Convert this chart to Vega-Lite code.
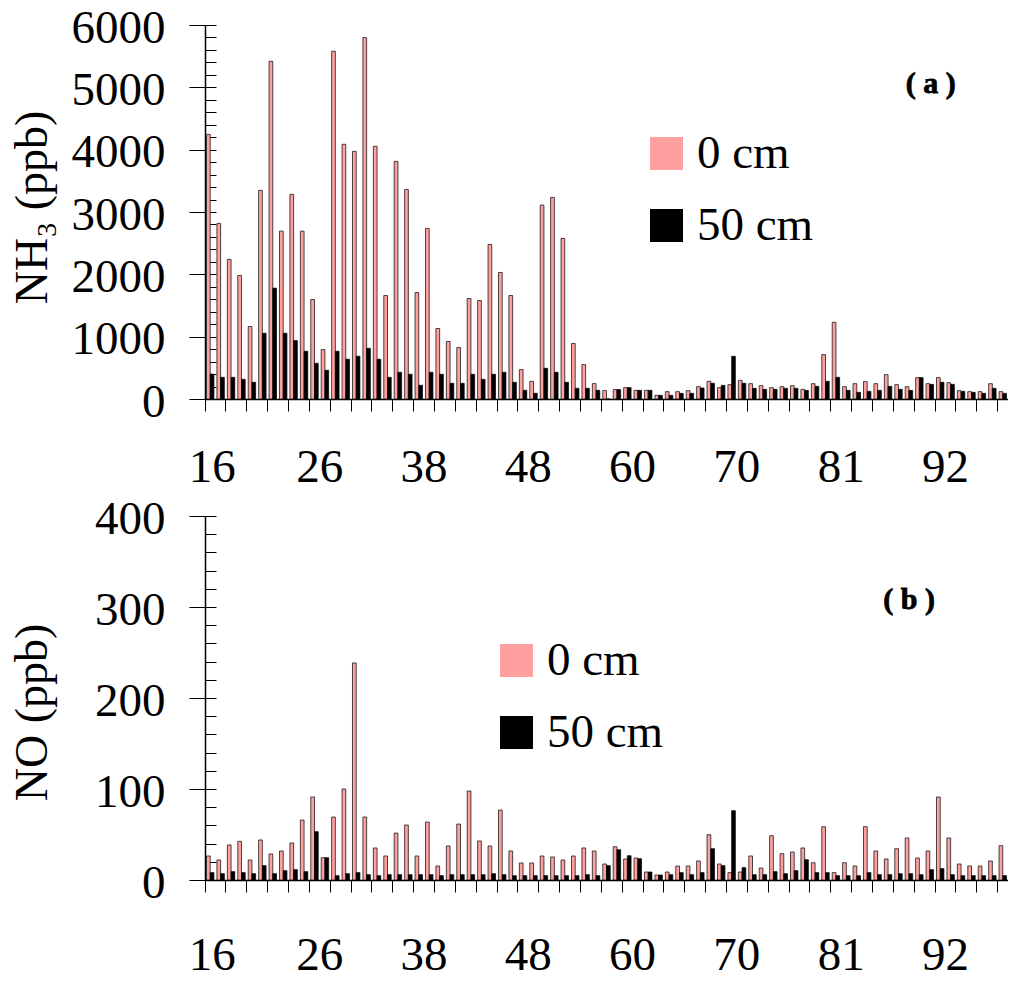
{
"$schema":"https://vega.github.io/schema/vega-lite/v6.json",
"background":"white",
"padding":{"left":8,"top":4,"right":0,"bottom":0},
"spacing":5,
"config":{"font":"Liberation Serif","view":{"stroke":null},
"axis":{"labelFont":"Liberation Serif","titleFont":"Liberation Serif","labelColor":"black","titleColor":"black","tickColor":"black","domainColor":"black","grid":false,"titleFontWeight":"normal"},
"legend":{"labelFont":"Liberation Serif","labelColor":"black"}},
"datasets":{
"nh3":[
{"d":0,"s":"0 cm","v":4246},{"d":1,"s":"0 cm","v":2817},{"d":2,"s":"0 cm","v":2239},{"d":3,"s":"0 cm","v":1982},{"d":4,"s":"0 cm","v":1163},{"d":5,"s":"0 cm","v":3347},{"d":6,"s":"0 cm","v":5418},{"d":7,"s":"0 cm","v":2693},{"d":8,"s":"0 cm","v":3283},{"d":9,"s":"0 cm","v":2693},
{"d":10,"s":"0 cm","v":1596},{"d":11,"s":"0 cm","v":793},{"d":12,"s":"0 cm","v":5579},{"d":13,"s":"0 cm","v":4086},{"d":14,"s":"0 cm","v":3973},{"d":15,"s":"0 cm","v":5798},{"d":16,"s":"0 cm","v":4054},{"d":17,"s":"0 cm","v":1660},{"d":18,"s":"0 cm","v":3812},{"d":19,"s":"0 cm","v":3362},
{"d":20,"s":"0 cm","v":1708},{"d":21,"s":"0 cm","v":2737},{"d":22,"s":"0 cm","v":1131},{"d":23,"s":"0 cm","v":922},{"d":24,"s":"0 cm","v":825},{"d":25,"s":"0 cm","v":1612},{"d":26,"s":"0 cm","v":1580},{"d":27,"s":"0 cm","v":2479},{"d":28,"s":"0 cm","v":2030},{"d":29,"s":"0 cm","v":1660},
{"d":30,"s":"0 cm","v":472},{"d":31,"s":"0 cm","v":284},{"d":32,"s":"0 cm","v":3111},{"d":33,"s":"0 cm","v":3234},{"d":34,"s":"0 cm","v":2576},{"d":35,"s":"0 cm","v":890},{"d":36,"s":"0 cm","v":552},{"d":37,"s":"0 cm","v":247},{"d":38,"s":"0 cm","v":135},{"d":39,"s":"0 cm","v":151},
{"d":40,"s":"0 cm","v":182},{"d":41,"s":"0 cm","v":139},{"d":42,"s":"0 cm","v":139},{"d":43,"s":"0 cm","v":59},{"d":44,"s":"0 cm","v":118},{"d":45,"s":"0 cm","v":118},{"d":46,"s":"0 cm","v":134},{"d":47,"s":"0 cm","v":198},{"d":48,"s":"0 cm","v":284},{"d":49,"s":"0 cm","v":182},
{"d":50,"s":"0 cm","v":230},{"d":51,"s":"0 cm","v":300},{"d":52,"s":"0 cm","v":246},{"d":53,"s":"0 cm","v":214},{"d":54,"s":"0 cm","v":182},{"d":55,"s":"0 cm","v":198},{"d":56,"s":"0 cm","v":214},{"d":57,"s":"0 cm","v":155},{"d":58,"s":"0 cm","v":246},{"d":59,"s":"0 cm","v":712},
{"d":60,"s":"0 cm","v":1231},{"d":61,"s":"0 cm","v":198},{"d":62,"s":"0 cm","v":246},{"d":63,"s":"0 cm","v":278},{"d":64,"s":"0 cm","v":246},{"d":65,"s":"0 cm","v":391},{"d":66,"s":"0 cm","v":230},{"d":67,"s":"0 cm","v":198},{"d":68,"s":"0 cm","v":343},{"d":69,"s":"0 cm","v":246},
{"d":70,"s":"0 cm","v":343},{"d":71,"s":"0 cm","v":262},{"d":72,"s":"0 cm","v":134},{"d":73,"s":"0 cm","v":118},{"d":74,"s":"0 cm","v":118},{"d":75,"s":"0 cm","v":246},{"d":76,"s":"0 cm","v":118},
{"d":0,"s":"50 cm","v":401},{"d":1,"s":"50 cm","v":348},{"d":2,"s":"50 cm","v":348},{"d":3,"s":"50 cm","v":316},{"d":4,"s":"50 cm","v":268},{"d":5,"s":"50 cm","v":1055},{"d":6,"s":"50 cm","v":1778},{"d":7,"s":"50 cm","v":1055},{"d":8,"s":"50 cm","v":938},{"d":9,"s":"50 cm","v":766},
{"d":10,"s":"50 cm","v":573},{"d":11,"s":"50 cm","v":461},{"d":12,"s":"50 cm","v":766},{"d":13,"s":"50 cm","v":638},{"d":14,"s":"50 cm","v":686},{"d":15,"s":"50 cm","v":814},{"d":16,"s":"50 cm","v":638},{"d":17,"s":"50 cm","v":348},{"d":18,"s":"50 cm","v":429},{"d":19,"s":"50 cm","v":397},
{"d":20,"s":"50 cm","v":220},{"d":21,"s":"50 cm","v":429},{"d":22,"s":"50 cm","v":397},{"d":23,"s":"50 cm","v":252},{"d":24,"s":"50 cm","v":252},{"d":25,"s":"50 cm","v":397},{"d":26,"s":"50 cm","v":316},{"d":27,"s":"50 cm","v":397},{"d":28,"s":"50 cm","v":429},{"d":29,"s":"50 cm","v":268},
{"d":30,"s":"50 cm","v":140},{"d":31,"s":"50 cm","v":92},{"d":32,"s":"50 cm","v":493},{"d":33,"s":"50 cm","v":429},{"d":34,"s":"50 cm","v":268},{"d":35,"s":"50 cm","v":172},{"d":36,"s":"50 cm","v":172},{"d":37,"s":"50 cm","v":140},{"d":38,"s":"50 cm","v":0},{"d":39,"s":"50 cm","v":151},
{"d":40,"s":"50 cm","v":183},{"d":41,"s":"50 cm","v":139},{"d":42,"s":"50 cm","v":139},{"d":43,"s":"50 cm","v":59},{"d":44,"s":"50 cm","v":59},{"d":45,"s":"50 cm","v":91},{"d":46,"s":"50 cm","v":91},{"d":47,"s":"50 cm","v":177},{"d":48,"s":"50 cm","v":252},{"d":49,"s":"50 cm","v":219},
{"d":50,"s":"50 cm","v":685},{"d":51,"s":"50 cm","v":252},{"d":52,"s":"50 cm","v":171},{"d":53,"s":"50 cm","v":155},{"d":54,"s":"50 cm","v":155},{"d":55,"s":"50 cm","v":171},{"d":56,"s":"50 cm","v":171},{"d":57,"s":"50 cm","v":139},{"d":58,"s":"50 cm","v":203},{"d":59,"s":"50 cm","v":284},
{"d":60,"s":"50 cm","v":348},{"d":61,"s":"50 cm","v":139},{"d":62,"s":"50 cm","v":107},{"d":63,"s":"50 cm","v":123},{"d":64,"s":"50 cm","v":139},{"d":65,"s":"50 cm","v":203},{"d":66,"s":"50 cm","v":155},{"d":67,"s":"50 cm","v":139},{"d":68,"s":"50 cm","v":343},{"d":69,"s":"50 cm","v":235},
{"d":70,"s":"50 cm","v":268},{"d":71,"s":"50 cm","v":235},{"d":72,"s":"50 cm","v":123},{"d":73,"s":"50 cm","v":107},{"d":74,"s":"50 cm","v":91},{"d":75,"s":"50 cm","v":171},{"d":76,"s":"50 cm","v":91}
],
"no":[
{"d":0,"s":"0 cm","v":26.4},{"d":1,"s":"0 cm","v":22},{"d":2,"s":"0 cm","v":38.5},{"d":3,"s":"0 cm","v":42.5},{"d":4,"s":"0 cm","v":22},{"d":5,"s":"0 cm","v":44},{"d":6,"s":"0 cm","v":28.6},{"d":7,"s":"0 cm","v":31.9},{"d":8,"s":"0 cm","v":40.7},{"d":9,"s":"0 cm","v":65.9},
{"d":10,"s":"0 cm","v":91.2},{"d":11,"s":"0 cm","v":24.5},{"d":12,"s":"0 cm","v":69.2},{"d":13,"s":"0 cm","v":100},{"d":14,"s":"0 cm","v":238.5},{"d":15,"s":"0 cm","v":69.2},{"d":16,"s":"0 cm","v":35.2},{"d":17,"s":"0 cm","v":26.4},{"d":18,"s":"0 cm","v":51.6},{"d":19,"s":"0 cm","v":60.4},
{"d":20,"s":"0 cm","v":26.4},{"d":21,"s":"0 cm","v":63.7},{"d":22,"s":"0 cm","v":15.4},{"d":23,"s":"0 cm","v":37.4},{"d":24,"s":"0 cm","v":61.5},{"d":25,"s":"0 cm","v":97.8},{"d":26,"s":"0 cm","v":42.9},{"d":27,"s":"0 cm","v":37.4},{"d":28,"s":"0 cm","v":76.9},{"d":29,"s":"0 cm","v":31.9},
{"d":30,"s":"0 cm","v":18.7},{"d":31,"s":"0 cm","v":18.7},{"d":32,"s":"0 cm","v":26.4},{"d":33,"s":"0 cm","v":25.3},{"d":34,"s":"0 cm","v":22},{"d":35,"s":"0 cm","v":26.4},{"d":36,"s":"0 cm","v":35.2},{"d":37,"s":"0 cm","v":31.9},{"d":38,"s":"0 cm","v":17.6},{"d":39,"s":"0 cm","v":36.6},
{"d":40,"s":"0 cm","v":23.1},{"d":41,"s":"0 cm","v":24.2},{"d":42,"s":"0 cm","v":8.8},{"d":43,"s":"0 cm","v":5.5},{"d":44,"s":"0 cm","v":8.8},{"d":45,"s":"0 cm","v":15.4},{"d":46,"s":"0 cm","v":15.4},{"d":47,"s":"0 cm","v":20.9},{"d":48,"s":"0 cm","v":49.8},{"d":49,"s":"0 cm","v":17.6},
{"d":50,"s":"0 cm","v":8.1},{"d":51,"s":"0 cm","v":8.8},{"d":52,"s":"0 cm","v":26.4},{"d":53,"s":"0 cm","v":13.2},{"d":54,"s":"0 cm","v":48.7},{"d":55,"s":"0 cm","v":28.9},{"d":56,"s":"0 cm","v":30.8},{"d":57,"s":"0 cm","v":35.2},{"d":58,"s":"0 cm","v":19},{"d":59,"s":"0 cm","v":58.6},
{"d":60,"s":"0 cm","v":8.1},{"d":61,"s":"0 cm","v":19},{"d":62,"s":"0 cm","v":15.4},{"d":63,"s":"0 cm","v":58.6},{"d":64,"s":"0 cm","v":31.9},{"d":65,"s":"0 cm","v":23.1},{"d":66,"s":"0 cm","v":34.4},{"d":67,"s":"0 cm","v":46.2},{"d":68,"s":"0 cm","v":24.2},{"d":69,"s":"0 cm","v":31.9},
{"d":70,"s":"0 cm","v":91.2},{"d":71,"s":"0 cm","v":46.2},{"d":72,"s":"0 cm","v":17.6},{"d":73,"s":"0 cm","v":15.4},{"d":74,"s":"0 cm","v":15.4},{"d":75,"s":"0 cm","v":20.9},{"d":76,"s":"0 cm","v":37.7},
{"d":0,"s":"50 cm","v":8.1},{"d":1,"s":"50 cm","v":7},{"d":2,"s":"50 cm","v":9.2},{"d":3,"s":"50 cm","v":8.1},{"d":4,"s":"50 cm","v":7},{"d":5,"s":"50 cm","v":15.8},{"d":6,"s":"50 cm","v":7},{"d":7,"s":"50 cm","v":10.3},{"d":8,"s":"50 cm","v":11.4},{"d":9,"s":"50 cm","v":9.2},
{"d":10,"s":"50 cm","v":53.1},{"d":11,"s":"50 cm","v":24.5},{"d":12,"s":"50 cm","v":4.8},{"d":13,"s":"50 cm","v":7},{"d":14,"s":"50 cm","v":8.1},{"d":15,"s":"50 cm","v":5.9},{"d":16,"s":"50 cm","v":4.8},{"d":17,"s":"50 cm","v":5.9},{"d":18,"s":"50 cm","v":5.9},{"d":19,"s":"50 cm","v":5.9},
{"d":20,"s":"50 cm","v":5.9},{"d":21,"s":"50 cm","v":5.9},{"d":22,"s":"50 cm","v":4.8},{"d":23,"s":"50 cm","v":5.9},{"d":24,"s":"50 cm","v":5.9},{"d":25,"s":"50 cm","v":5.9},{"d":26,"s":"50 cm","v":5.9},{"d":27,"s":"50 cm","v":7},{"d":28,"s":"50 cm","v":5.9},{"d":29,"s":"50 cm","v":4.8},
{"d":30,"s":"50 cm","v":4.8},{"d":31,"s":"50 cm","v":4.8},{"d":32,"s":"50 cm","v":4.8},{"d":33,"s":"50 cm","v":4.8},{"d":34,"s":"50 cm","v":4.8},{"d":35,"s":"50 cm","v":4.8},{"d":36,"s":"50 cm","v":5.9},{"d":37,"s":"50 cm","v":4.8},{"d":38,"s":"50 cm","v":15.8},{"d":39,"s":"50 cm","v":33.3},
{"d":40,"s":"50 cm","v":26.7},{"d":41,"s":"50 cm","v":23.4},{"d":42,"s":"50 cm","v":8.8},{"d":43,"s":"50 cm","v":5.5},{"d":44,"s":"50 cm","v":5.9},{"d":45,"s":"50 cm","v":8.1},{"d":46,"s":"50 cm","v":5.9},{"d":47,"s":"50 cm","v":8.1},{"d":48,"s":"50 cm","v":34.4},{"d":49,"s":"50 cm","v":15.8},
{"d":50,"s":"50 cm","v":76.2},{"d":51,"s":"50 cm","v":13.6},{"d":52,"s":"50 cm","v":5.9},{"d":53,"s":"50 cm","v":5.9},{"d":54,"s":"50 cm","v":9.2},{"d":55,"s":"50 cm","v":7},{"d":56,"s":"50 cm","v":10.3},{"d":57,"s":"50 cm","v":22.3},{"d":58,"s":"50 cm","v":8.1},{"d":59,"s":"50 cm","v":8.1},
{"d":60,"s":"50 cm","v":4.8},{"d":61,"s":"50 cm","v":4.8},{"d":62,"s":"50 cm","v":4.8},{"d":63,"s":"50 cm","v":8.1},{"d":64,"s":"50 cm","v":5.9},{"d":65,"s":"50 cm","v":5.9},{"d":66,"s":"50 cm","v":7},{"d":67,"s":"50 cm","v":7},{"d":68,"s":"50 cm","v":5.9},{"d":69,"s":"50 cm","v":11.4},
{"d":70,"s":"50 cm","v":12.5},{"d":71,"s":"50 cm","v":5.9},{"d":72,"s":"50 cm","v":4.8},{"d":73,"s":"50 cm","v":4.8},{"d":74,"s":"50 cm","v":4.8},{"d":75,"s":"50 cm","v":4.8},{"d":76,"s":"50 cm","v":4.8}
]},
"resolve":{"legend":{"color":"independent"}},
"vconcat":[
{"width":803,"height":374,
"layer":[
{"data":{"name":"nh3"},
"mark":{"type":"bar","stroke":"black","strokeWidth":0.7},
"encoding":{
"x":{"field":"d","type":"ordinal","scale":{"paddingInner":0,"paddingOuter":0},
"axis":{"values":[0,2,4,6,8,10,12,14,16,18,20,22,24,26,28,30,32,34,36,38,40,42,44,46,48,50,52,54,56,58,60,62,64,66,68,70,72,74,76],"bandPosition":0,"tickSize":12,"domainWidth":1.5,"labelFontSize":47,"labelAngle":0,"labelPadding":33,"labelOffset":{"condition":{"test":"datum.value == 0","value":2},"value":5.2},"labelOverlap":false,"labelBound":false,"labelExpr":"datum.value % 10 == 0 ? ['16','26','38','48','60','70','81','92'][datum.value/10] : ''","title":null}},
"xOffset":{"field":"s","type":"nominal","scale":{"paddingInner":0,"paddingOuter":0.4}},
"y":{"field":"v","type":"quantitative","scale":{"domain":[0,6000],"nice":false},
"axis":{"orient":"left","values":[0,1000,2000,3000,4000,5000,6000],"format":"d","tickSize":16,"labelPadding":24,"labelOffset":3,"labelFontSize":47,"domainWidth":1.5,"title":"NH₃ (ppb)","titleFontSize":46,"titleX":-149,"titleY":182}},
"color":{"field":"s","type":"nominal","scale":{"domain":["0 cm","50 cm"],"range":["#ffa0a0","#000000"]},
"legend":{"orient":"none","legendX":438,"legendY":105,"title":null,"symbolType":"square","symbolSize":1089,"symbolStrokeWidth":0,"labelFontSize":47,"labelOffset":7,"rowPadding":24}}
}},
{"data":{"values":[{"v":0},{"v":6000}]},
"mark":{"type":"point","opacity":0},
"encoding":{
"y":{"field":"v","type":"quantitative","scale":{"domain":[0,6000],"nice":false},
"axis":{"orient":"left","values":[0,200,400,600,800,1000,1200,1400,1600,1800,2000,2200,2400,2600,2800,3000,3200,3400,3600,3800,4000,4200,4400,4600,4800,5000,5200,5400,5600,5800,6000],"tickSize":-11,"labels":false,"domain":false,"title":null}}
}},
{"data":{"values":[{"t":"( a )"}]},
"mark":{"type":"text","align":"right","baseline":"middle","font":"Liberation Serif","fontSize":30,"fontWeight":"bold","color":"black","stroke":"black","strokeWidth":0.8},
"encoding":{"text":{"field":"t"},"x":{"datum":72,"type":"ordinal","bandPosition":0},"y":{"datum":5054,"type":"quantitative","scale":{"domain":[0,6000],"nice":false},"axis":null}}}
],
"resolve":{"axis":{"y":"independent"}}
},
{"width":803,"height":364,
"layer":[
{"data":{"name":"no"},
"mark":{"type":"bar","stroke":"black","strokeWidth":0.7},
"encoding":{
"x":{"field":"d","type":"ordinal","scale":{"paddingInner":0,"paddingOuter":0},
"axis":{"values":[0,2,4,6,8,10,12,14,16,18,20,22,24,26,28,30,32,34,36,38,40,42,44,46,48,50,52,54,56,58,60,62,64,66,68,70,72,74,76],"bandPosition":0,"tickSize":12,"domainWidth":1.5,"labelFontSize":47,"labelAngle":0,"labelPadding":40,"labelOffset":{"condition":{"test":"datum.value == 0","value":2},"value":5.2},"labelOverlap":false,"labelBound":false,"labelExpr":"datum.value % 10 == 0 ? ['16','26','38','48','60','70','81','92'][datum.value/10] : ''","title":null}},
"xOffset":{"field":"s","type":"nominal","scale":{"paddingInner":0,"paddingOuter":0.4}},
"y":{"field":"v","type":"quantitative","scale":{"domain":[0,400],"nice":false},
"axis":{"orient":"left","values":[0,100,200,300,400],"format":"d","tickSize":16,"labelPadding":24,"labelOffset":3,"labelFontSize":47,"domainWidth":1.5,"title":"NO (ppb)","titleFontSize":46,"titleX":-149,"titleY":196}},
"color":{"field":"s","type":"nominal","scale":{"domain":["0 cm","50 cm"],"range":["#ffa0a0","#000000"]},
"legend":{"orient":"none","legendX":288,"legendY":121,"title":null,"symbolType":"square","symbolSize":1089,"symbolStrokeWidth":0,"labelFontSize":47,"labelOffset":7,"rowPadding":24}}
}},
{"data":{"values":[{"v":0},{"v":400}]},
"mark":{"type":"point","opacity":0},
"encoding":{
"y":{"field":"v","type":"quantitative","scale":{"domain":[0,400],"nice":false},
"axis":{"orient":"left","values":[0,20,40,60,80,100,120,140,160,180,200,220,240,260,280,300,320,340,360,380,400],"tickSize":-11,"labels":false,"domain":false,"title":null}}
}},
{"data":{"values":[{"t":"( b )"}]},
"mark":{"type":"text","align":"right","baseline":"middle","font":"Liberation Serif","fontSize":30,"fontWeight":"bold","color":"black","stroke":"black","strokeWidth":0.8},
"encoding":{"text":{"field":"t"},"x":{"datum":70,"type":"ordinal","bandPosition":0},"y":{"datum":308,"type":"quantitative","scale":{"domain":[0,400],"nice":false},"axis":null}}}
],
"resolve":{"axis":{"y":"independent"}}
}
]
}
